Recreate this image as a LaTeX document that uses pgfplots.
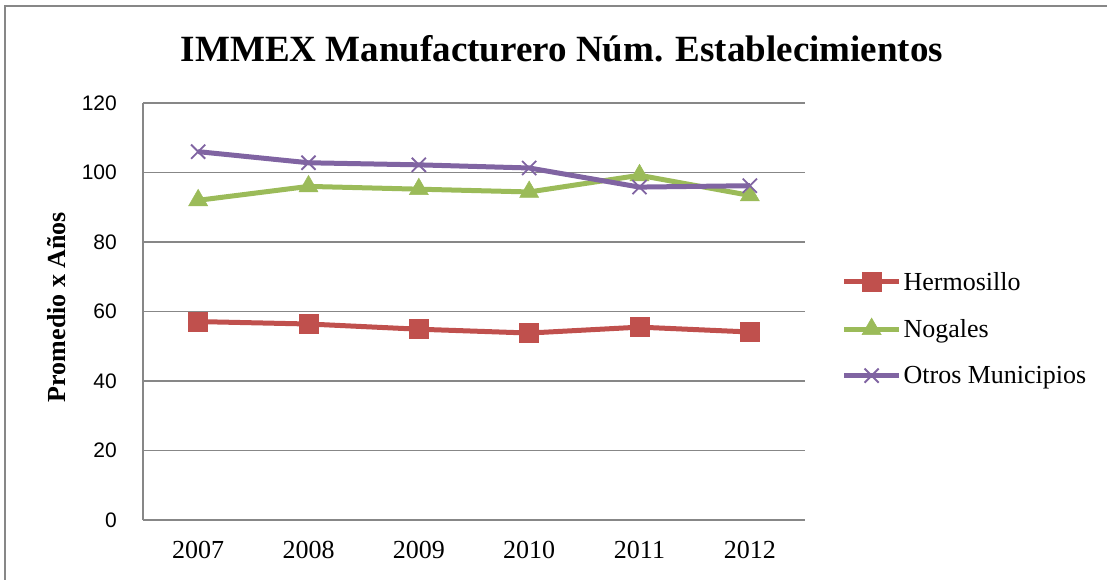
\documentclass[border=0pt]{standalone}
\usepackage{pgfplots}
\pgfplotsset{compat=1.18}
\usepackage{fontspec}
\setmainfont{Liberation Serif}
\newfontfamily\arialf{Liberation Sans}

\definecolor{hermo}{HTML}{C0504D}
\definecolor{noga}{HTML}{9BBB59}
\definecolor{otros}{HTML}{8064A2}
\definecolor{gridc}{HTML}{878787}

\begin{document}
\begin{tikzpicture}
\useasboundingbox (0,0) rectangle (1107bp,580bp);
% chart frame
\draw[gridc, line width=1.6bp] (5bp,0) -- (5bp,574bp) -- (1107bp,574bp);

\begin{axis}[
  at={(143bp,60bp)}, anchor=south west,
  scale only axis, width=662bp, height=417bp,
  xmin=-0.5, xmax=5.5, ymin=0, ymax=120,
  xtick={0,1,2,3,4,5},
  xticklabels={2007,2008,2009,2010,2011,2012},
  ytick={0,20,40,60,80,100,120},
  axis x line*=bottom, axis y line*=left,
  axis line style={-, draw=gridc, line width=1.4bp},
  ymajorgrids,
  grid style={draw=gridc, line width=1.4bp},
  major tick length=0pt,
  tick style={draw=none},
  /pgf/number format/assume math mode=true,
  yticklabel style={font=\arialf\fontsize{21bp}{24bp}\selectfont, anchor=east, inner sep=0pt, xshift=-26bp},
  xticklabel style={font=\fontsize{26bp}{28bp}\selectfont, anchor=north, inner sep=0pt, yshift=-21.5bp},
  legend style={at={(1.055,0.459)}, anchor=west, draw=none, fill=none,
    font=\fontsize{26bp}{28bp}\selectfont, row sep=23.5bp, inner sep=0pt,
    legend cell align=left},
  legend image code/.code={%
    \draw[mark repeat=2, mark phase=2, #1]
      plot coordinates {(0bp,0bp) (27.5bp,0bp) (55bp,0bp)};},
  every axis plot/.append style={line width=5bp},
  clip=false,
]
\addplot[color=hermo, mark=square*, mark size=9.5bp,
  mark options={line width=0.5bp, fill=hermo}]
  coordinates {(0,57.1) (1,56.4) (2,54.9) (3,53.8) (4,55.5) (5,54.1)};
\addlegendentry{Hermosillo}
\addplot[color=noga, mark=triangle*, mark size=11bp,
  mark options={line width=0.5bp, fill=noga}]
  coordinates {(0,92.0) (1,96.0) (2,95.2) (3,94.4) (4,99.2) (5,93.4)};
\addlegendentry{Nogales}
\addplot[color=otros, mark=x, mark size=10bp,
  mark options={line width=1.8bp}]
  coordinates {(0,106.0) (1,102.8) (2,102.2) (3,101.3) (4,95.8) (5,96.2)};
\addlegendentry{Otros Municipios}
\end{axis}

\node[font=\bfseries\fontsize{37bp}{40bp}\selectfont, anchor=base]
  at (562bp,518bp) {IMMEX Manufacturero Núm. Establecimientos};
\node[font=\bfseries\fontsize{26bp}{28bp}\selectfont, rotate=90]
  at (57bp,273bp) {Promedio x Años};
\end{tikzpicture}
\end{document}
